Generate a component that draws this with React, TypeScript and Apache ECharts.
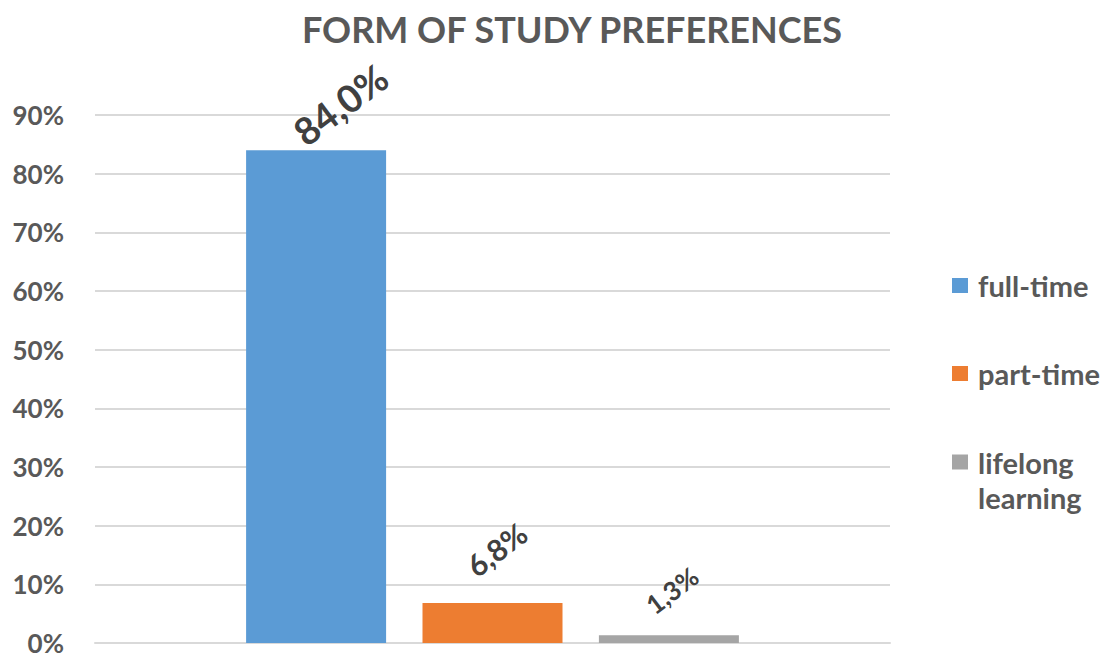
import React, { useEffect, useRef } from "react";
import * as echarts from "echarts";

const title = "FORM OF STUDY PREFERENCES";
const categories = [""];
const seriesNames = ["full-time", "part-time", "lifelong learning"];
const seriesValues = [84.0, 6.8, 1.3];
const seriesColors = ["#5B9BD5", "#ED7D31", "#A5A5A5"];
const yTicks = [0, 10, 20, 30, 40, 50, 60, 70, 80, 90];

// styling
const ROT = 37;
const labelSizes = [38, 30, 26];
const labelDisp: [number, number][] = [
  [24, -46],
  [4, -54],
  [3, -45],
];
const legendTops = [268, 356, 409.5];

const FONT = "Lato, 'Open Sans', sans-serif";

function rotOffset(d: [number, number]): [number, number] {
  const t = (ROT * Math.PI) / 180;
  const c = Math.cos(t);
  const s = Math.sin(t);
  return [d[0] * c - d[1] * s, d[0] * s + d[1] * c];
}

export default function App() {
  const ref = useRef<HTMLDivElement>(null);
  useEffect(() => {
    if (!ref.current) return;
    const chart = echarts.init(ref.current, null, { renderer: "svg" });
    chart.setOption({
      animation: false,
      backgroundColor: "#ffffff",
      title: {
        text: title,
        left: 567,
        textAlign: "center",
        top: 6,
        textStyle: { fontFamily: FONT, fontSize: 36, fontWeight: "bold", color: "#595959" },
      },
      legend: seriesNames.map((n, i) => ({
        orient: "vertical",
        left: 952,
        top: legendTops[i],
        padding: 0,
        icon: "rect",
        itemWidth: 16,
        itemHeight: 15,
        itemGap: 0,
        selectedMode: false,
        data: [n],
        formatter: (name: string) =>
          name.indexOf(" ") >= 0 ? "\n" + name.replace(" ", "\n") : name,
        textStyle: {
          fontFamily: FONT,
          fontSize: 29,
          fontWeight: "bold",
          color: "#595959",
          lineHeight: 35,
          padding: [0, 0, 0, 5],
        },
      })),
      grid: { left: 95, right: 219, top: 115, bottom: 11, containLabel: false },
      xAxis: {
        type: "category",
        data: categories,
        axisLine: { show: true, lineStyle: { color: "#D9D9D9", width: 2 } },
        axisTick: { show: false },
        axisLabel: { show: false },
      },
      yAxis: {
        type: "value",
        min: yTicks[0],
        max: yTicks[yTicks.length - 1],
        interval: 10,
        axisLine: { show: false },
        axisTick: { show: false },
        splitLine: { lineStyle: { color: "#D9D9D9", width: 2 } },
        axisLabel: {
          margin: 31,
          formatter: (v: number) => `${v}%`,
          fontFamily: FONT,
          fontSize: 26,
          lineHeight: 18,
          fontWeight: "bold",
          color: "#595959",
        },
      },
      series: seriesNames.map((name, i) => ({
        type: "bar",
        name,
        barWidth: 140,
        barGap: "26%",
        itemStyle: { color: seriesColors[i] },
        data: [seriesValues[i]],
        label: {
          show: true,
          position: "top",
          distance: 0,
          rotate: ROT,
          align: "center",
          verticalAlign: "middle",
          offset: rotOffset(labelDisp[i]),
          formatter: (p: any) => `${p.value.toFixed(1).replace(".", ",")}%`,
          fontFamily: FONT,
          fontSize: labelSizes[i],
          fontWeight: "bold",
          color: "#404040",
        },
      })),
    });
    return () => chart.dispose();
  }, []);
  return (
    <div
      ref={ref}
      style={{ position: "fixed", left: 0, top: 0, width: 1109, height: 656 }}
    />
  );
}
